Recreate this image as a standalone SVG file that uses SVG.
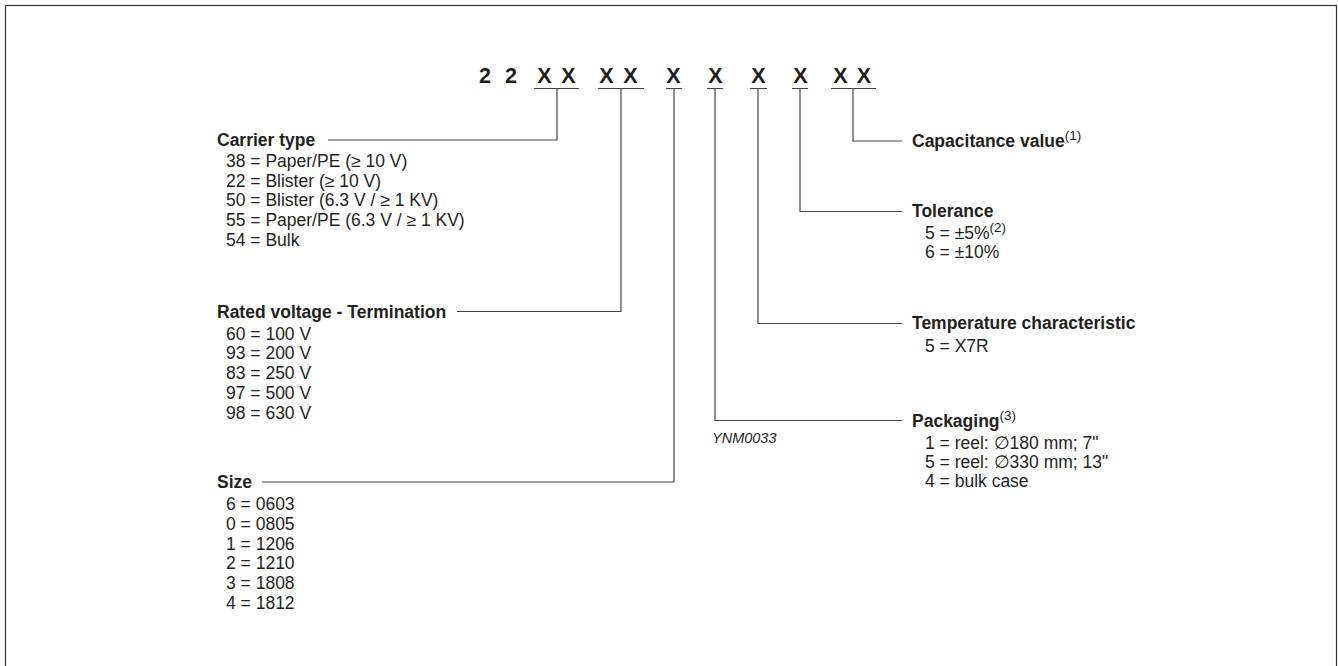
<svg xmlns="http://www.w3.org/2000/svg" width="1338" height="666" viewBox="0 0 1338 666">
<style>
text{font-family:"Liberation Sans",Arial,Helvetica,sans-serif;fill:#231f20}
.code{font-size:21.5px;font-weight:bold;text-anchor:middle}
.lbl{font-size:17.5px;font-weight:bold}
.itm{font-size:17.5px}
.sup{font-size:13.5px;font-weight:normal}
.ref{font-size:14.5px;font-style:italic}
.ln{fill:none;stroke:#444;stroke-width:1.2}
</style>
<rect x="5.5" y="5.5" width="1331" height="700" fill="#fff" stroke="#333" stroke-width="1.2"/>
<g id="code">
<text class="code" x="485" y="83">2</text>
<text class="code" x="511" y="83">2</text>
<text class="code" x="544.5" y="83">X</text>
<text class="code" x="568.5" y="83">X</text>
<text class="code" x="606.5" y="83">X</text>
<text class="code" x="630.5" y="83">X</text>
<text class="code" x="673.5" y="83">X</text>
<text class="code" x="715.5" y="83">X</text>
<text class="code" x="758.5" y="83">X</text>
<text class="code" x="800.5" y="83">X</text>
<text class="code" x="840.5" y="83">X</text>
<text class="code" x="864" y="83">X</text>
</g>
<g id="connectors" class="ln">
<path class="ln" d="M534 88.5H579M557 88.5V140H328"/>
<path class="ln" d="M598 88.5H644M621 88.5V311.5H457"/>
<path class="ln" d="M666 88.5H682M674 88.5V482H262"/>
<path class="ln" d="M707 88.5H723M715 88.5V420.5H902"/>
<path class="ln" d="M750 88.5H767M758 88.5V323.5H902"/>
<path class="ln" d="M792 88.5H808M800 88.5V211.5H902"/>
<path class="ln" d="M831 88.5H876M853 88.5V141H902"/>
</g>
<g id="carrier">
<text class="lbl" x="217" y="145.5">Carrier type</text>
<text class="itm" x="226" y="166.7">38 = Paper/PE (≥ 10 V)</text>
<text class="itm" x="226" y="186.5">22 = Blister (≥ 10 V)</text>
<text class="itm" x="226" y="206.3">50 = Blister (6.3 V / ≥ 1 KV)</text>
<text class="itm" x="226" y="226.1">55 = Paper/PE (6.3 V / ≥ 1 KV)</text>
<text class="itm" x="226" y="245.9">54 = Bulk</text>
</g>
<g id="voltage">
<text class="lbl" x="217" y="317.5">Rated voltage - Termination</text>
<text class="itm" x="226" y="339.5">60 = 100 V</text>
<text class="itm" x="226" y="359.3">93 = 200 V</text>
<text class="itm" x="226" y="379.1">83 = 250 V</text>
<text class="itm" x="226" y="398.9">97 = 500 V</text>
<text class="itm" x="226" y="418.7">98 = 630 V</text>
</g>
<g id="size">
<text class="lbl" x="217" y="488">Size</text>
<text class="itm" x="226" y="510">6 = 0603</text>
<text class="itm" x="226" y="529.8">0 = 0805</text>
<text class="itm" x="226" y="549.6">1 = 1206</text>
<text class="itm" x="226" y="569.4">2 = 1210</text>
<text class="itm" x="226" y="589.2">3 = 1808</text>
<text class="itm" x="226" y="609">4 = 1812</text>
</g>
<g id="capacitance">
<text class="lbl" x="912" y="146.5">Capacitance value<tspan class="sup" dy="-7">(1)</tspan></text>
</g>
<g id="tolerance">
<text class="lbl" x="912" y="217">Tolerance</text>
<text class="itm" x="925" y="239">5 = ±5%<tspan class="sup" dy="-7">(2)</tspan></text>
<text class="itm" x="925" y="258.3">6 = ±10%</text>
</g>
<g id="temperature">
<text class="lbl" x="912" y="329">Temperature characteristic</text>
<text class="itm" x="925" y="352">5 = X7R</text>
</g>
<g id="packaging">
<text class="lbl" x="912" y="426.5">Packaging<tspan class="sup" dy="-7">(3)</tspan></text>
<text class="itm" x="925" y="449">1 = reel: ∅180 mm; 7"</text>
<text class="itm" x="925" y="468">5 = reel: ∅330 mm; 13"</text>
<text class="itm" x="925" y="487">4 = bulk case</text>
</g>
<text class="ref" x="712" y="443">YNM0033</text>
</svg>
